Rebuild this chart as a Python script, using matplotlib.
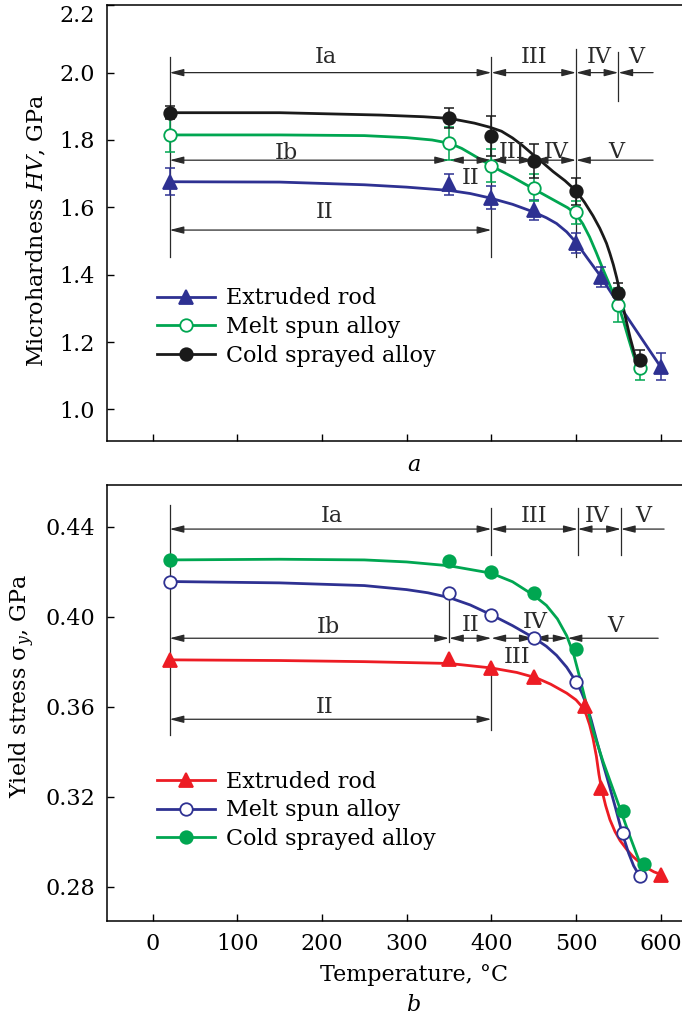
import numpy as np
import matplotlib
matplotlib.use('Agg')
import matplotlib.pyplot as plt

plt.rcParams['font.family'] = ['DejaVu Serif']
plt.rcParams['mathtext.fontset'] = 'dejavuserif'

# ---- panel a: microhardness HV (GPa) ----
T_hv_rod = [20, 350, 400, 450, 500, 530, 600]
hv_rod = [1.676, 1.668, 1.629, 1.592, 1.495, 1.394, 1.126]
err_rod = [0.04, 0.03, 0.035, 0.03, 0.03, 0.03, 0.04]

T_hv_melt = [20, 350, 400, 450, 500, 550, 575]
hv_melt = [1.815, 1.790, 1.724, 1.658, 1.585, 1.310, 1.123]
err_melt = [0.05, 0.05, 0.05, 0.04, 0.035, 0.05, 0.035]

T_hv_cold = [20, 350, 400, 450, 500, 550, 575]
hv_cold = [1.881, 1.866, 1.812, 1.738, 1.648, 1.346, 1.146]
err_cold = [0.02, 0.03, 0.06, 0.05, 0.04, 0.03, 0.03]

# fitted curves
cT_hv_rod = [20, 150, 250, 300, 351, 375, 398, 425, 449, 465, 477, 489, 500, 514, 528, 550, 600]
cv_hv_rod = [1.676, 1.675, 1.667, 1.660, 1.650, 1.641, 1.628, 1.609, 1.587, 1.569, 1.552,
             1.527, 1.496, 1.447, 1.399, 1.313, 1.126]
cT_hv_melt = [20, 150, 250, 300, 330, 351, 365, 378, 390, 400, 425, 449, 477, 490, 500, 508,
              516, 524, 532, 541, 550, 556, 562, 568, 573]
cv_hv_melt = [1.815, 1.815, 1.813, 1.807, 1.800, 1.790, 1.775, 1.756, 1.738, 1.723, 1.690,
              1.656, 1.617, 1.599, 1.580, 1.551, 1.512, 1.465, 1.415, 1.362, 1.310, 1.262,
              1.210, 1.160, 1.126]
cT_hv_cold = [20, 150, 269, 320, 351, 380, 398, 412, 425, 437, 449, 461, 473, 487, 500, 510,
              520, 528, 532, 536, 540, 544, 548, 552, 556, 560, 564, 568, 571]
cv_hv_cold = [1.881, 1.881, 1.874, 1.869, 1.864, 1.850, 1.838, 1.826, 1.806, 1.783, 1.757,
              1.732, 1.706, 1.679, 1.649, 1.615, 1.575, 1.538, 1.516, 1.493, 1.463, 1.430,
              1.391, 1.346, 1.300, 1.255, 1.212, 1.175, 1.146]

# ---- panel b: yield stress (GPa) ----
T_ys_rod = [20, 350, 400, 450, 510, 530, 600]
ys_rod = [0.3808, 0.3810, 0.3771, 0.3730, 0.3605, 0.3237, 0.2852]
T_ys_melt = [20, 350, 400, 450, 500, 555, 575]
ys_melt = [0.4156, 0.4104, 0.4008, 0.3904, 0.3711, 0.3037, 0.2848]
T_ys_cold = [20, 350, 400, 450, 500, 555, 580]
ys_cold = [0.4252, 0.4248, 0.4200, 0.4104, 0.3856, 0.3138, 0.2900]

cT_ys_rod = [20, 150, 250, 350, 400, 430, 453, 470, 489, 500, 507, 512, 516, 520, 524, 527,
             530, 535, 540, 546, 552, 560, 567, 575, 583, 592, 602]
cv_ys_rod = [0.3808, 0.3805, 0.3800, 0.3792, 0.3772, 0.3752, 0.3728, 0.3700, 0.3660, 0.3630,
             0.3600, 0.3565, 0.3520, 0.3460, 0.3380, 0.3300, 0.3237, 0.3160, 0.3098, 0.3045,
             0.3005, 0.2965, 0.2935, 0.2908, 0.2885, 0.2866, 0.2852]
cT_ys_melt = [20, 150, 250, 300, 325, 350, 375, 400, 425, 451, 465, 477, 489, 500, 506, 512,
              518, 524, 532, 540, 547, 554, 562, 568, 575]
cv_ys_melt = [0.4156, 0.4150, 0.4138, 0.4120, 0.4106, 0.4085, 0.4052, 0.4008, 0.3960, 0.3904,
              0.3868, 0.3828, 0.3775, 0.3711, 0.3668, 0.3612, 0.3540, 0.3455, 0.3345, 0.3240,
              0.3145, 0.3045, 0.2950, 0.2893, 0.2848]
cT_ys_cold = [20, 150, 250, 300, 350, 400, 425, 450, 465, 478, 489, 497, 504, 512, 520, 532,
              544, 554, 563, 571, 577]
cv_ys_cold = [0.4252, 0.4255, 0.4252, 0.4243, 0.4226, 0.4193, 0.4155, 0.4095, 0.4050, 0.3990,
              0.3915, 0.3835, 0.3735, 0.3615, 0.3495, 0.3355, 0.3230, 0.3125, 0.3030, 0.2950,
              0.2890]

labels = ['Extruded rod', 'Melt spun alloy', 'Cold sprayed alloy']

# stage brackets: (start, end, label, label_x, label_y, both_heads, row_y)
stages_a = [
    (20, 400, 'Ia', 205, 2.045, True, 2.0),
    (400, 500, 'III', 450, 2.045, True, 2.0),
    (500, 550, 'IV', 527, 2.045, True, 2.0),
    (550, 591, 'V', 571, 2.045, False, 2.0),
    (20, 350, 'Ib', 158, 1.762, True, 1.74),
    (350, 400, 'II', 375, 1.686, True, 1.74),
    (400, 450, 'III', 424, 1.765, True, 1.74),
    (450, 500, 'IV', 477, 1.765, True, 1.74),
    (500, 591, 'V', 548, 1.765, False, 1.74),
    (20, 400, 'II', 203, 1.587, True, 1.5325),
]
vlines_a = [(20, 1.452, 2.0475), (400, 1.452, 2.0475), (500, 1.452, 2.07), (550, 1.916, 2.06)]

stages_b = [
    (20, 400, 'Ia', 212, 0.4448, True, 0.4389),
    (400, 502, 'III', 450, 0.4448, True, 0.4389),
    (502, 553, 'IV', 525, 0.4448, True, 0.4389),
    (553, 604, 'V', 580, 0.4448, False, 0.4389),
    (20, 350, 'Ib', 207, 0.3956, True, 0.3904),
    (350, 400, 'II', 375, 0.3963, True, 0.3904),
    (400, 450, 'III', 430, 0.3822, True, 0.3904),
    (450, 490, 'IV', 452, 0.3978, True, 0.3904),
    (490, 597, 'V', 546, 0.3960, False, 0.3904),
    (20, 400, 'II', 203, 0.3600, True, 0.3544),
]
vlines_b = [(20, 0.3474, 0.4496), (400, 0.4274, 0.4483), (400, 0.3497, 0.3771),
            (502, 0.4274, 0.4483), (553, 0.4274, 0.4483), (350, 0.3889, 0.4104)]

BLUE = '#2e3192'
GREEN = '#00a651'
BLACK = '#1a1a1a'
RED = '#ed1c24'
ANN = '#2a2a2a'
FS = 16


def draw_stages(ax, stages, vlines):
    for x, y0, y1 in vlines:
        ax.plot([x, x], [y0, y1], color=ANN, lw=0.9, zorder=1)
    for x0, x1, lab, lx, ly, both, y in stages:
        style = '<|-|>' if both else '-|>'
        style += ',head_length=0.7,head_width=0.18'
        if both:
            ax.annotate('', xy=(x1, y), xytext=(x0, y),
                        arrowprops=dict(arrowstyle=style, color=ANN, lw=0.9,
                                        shrinkA=0, shrinkB=0, mutation_scale=12))
        else:
            ax.annotate('', xy=(x0, y), xytext=(x1, y),
                        arrowprops=dict(arrowstyle=style, color=ANN, lw=0.9,
                                        shrinkA=0, shrinkB=0, mutation_scale=12))
        ax.text(lx, ly, lab, ha='center', va='center', fontsize=FS, color=ANN)


def style_axes(ax):
    ax.set_xlim(-53.6, 670)
    ax.set_xticks([0, 100, 200, 300, 400, 500, 600])
    ax.tick_params(direction='in', length=5, width=1, labelsize=FS, pad=9)
    ax.spines['right'].set_visible(False)
    for s in ['left', 'bottom', 'top']:
        ax.spines[s].set_linewidth(1.1)


fig = plt.figure(figsize=(6.82, 10.15), dpi=100)
axa = fig.add_axes([0.1573, 0.5658, 0.8984, 0.4290])
axb = fig.add_axes([0.1573, 0.0929, 0.8984, 0.4293])

# panel a
style_axes(axa)
axa.set_ylim(0.907, 2.2)
axa.set_yticks([1.0, 1.2, 1.4, 1.6, 1.8, 2.0, 2.2])
axa.set_yticklabels(['1.0', '1.2', '1.4', '1.6', '1.8', '2.0', '2.2'])
axa.get_yticklabels()[-1].set_va('top')
axa.tick_params(axis='x', labelbottom=False)
draw_stages(axa, stages_a, vlines_a)

series_a = [
    (T_hv_rod, hv_rod, err_rod, cT_hv_rod, cv_hv_rod, BLUE, '^', BLUE, 10),
    (T_hv_melt, hv_melt, err_melt, cT_hv_melt, cv_hv_melt, GREEN, 'o', 'white', 9),
    (T_hv_cold, hv_cold, err_cold, cT_hv_cold, cv_hv_cold, BLACK, 'o', BLACK, 9),
]
handles = []
for (t, v, e, ct, cv, c, m, fc, ms), lab in zip(series_a, labels):
    axa.errorbar(t, v, yerr=e, fmt='none', ecolor=c, elinewidth=1.1, capsize=3.5,
                 capthick=1.1, zorder=3)
    axa.plot(ct, cv, color=c, lw=2, zorder=2)
    axa.plot(t, v, ls='none', marker=m, ms=ms, mfc=fc, mec=c, mew=1.3, zorder=4)
    h, = axa.plot([], [], color=c, lw=2, marker=m, ms=ms, mfc=fc, mec=c, mew=1.3)
    handles.append(h)
axa.legend(handles, labels, loc='upper left', bbox_to_anchor=(0.081, 0.352),
           frameon=False, fontsize=FS, handlelength=2.6, handletextpad=0.5,
           labelspacing=0.3, borderpad=0, borderaxespad=0)
axa.set_ylabel('Microhardness $HV$, GPa', fontsize=FS, va='center')
axa.yaxis.set_label_coords(-0.115, 0.484)
fig.text(0.6065, 1 - 465 / 1015, 'a', ha='center', va='center', fontsize=FS,
         style='italic')

# panel b
style_axes(axb)
axb.set_ylim(0.2649, 0.4585)
axb.set_yticks([0.28, 0.32, 0.36, 0.40, 0.44])
axb.set_yticklabels(['0.28', '0.32', '0.36', '0.40', '0.44'])
draw_stages(axb, stages_b, vlines_b)

series_b = [
    (T_ys_rod, ys_rod, cT_ys_rod, cv_ys_rod, RED, '^', RED, 10),
    (T_ys_melt, ys_melt, cT_ys_melt, cv_ys_melt, BLUE, 'o', 'white', 9),
    (T_ys_cold, ys_cold, cT_ys_cold, cv_ys_cold, GREEN, 'o', GREEN, 9),
]
handles = []
for (t, v, ct, cv, c, m, fc, ms), lab in zip(series_b, labels):
    axb.plot(ct, cv, color=c, lw=2, zorder=2)
    axb.plot(t, v, ls='none', marker=m, ms=ms, mfc=fc, mec=c, mew=1.3, zorder=4)
    h, = axb.plot([], [], color=c, lw=2, marker=m, ms=ms, mfc=fc, mec=c, mew=1.3)
    handles.append(h)
axb.legend(handles, labels, loc='upper left', bbox_to_anchor=(0.081, 0.344),
           frameon=False, fontsize=FS, handlelength=2.6, handletextpad=0.5,
           labelspacing=0.3, borderpad=0, borderaxespad=0)
axb.set_ylabel('Yield stress σ$_y$, GPa', fontsize=FS, va='center')
axb.yaxis.set_label_coords(-0.139, 0.539)
axb.set_xlabel('Temperature, °C', fontsize=FS, labelpad=6)
fig.text(0.6065, 1 - 1005 / 1015, 'b', ha='center', va='center', fontsize=FS,
         style='italic')

fig.savefig('out.png', dpi=100)
